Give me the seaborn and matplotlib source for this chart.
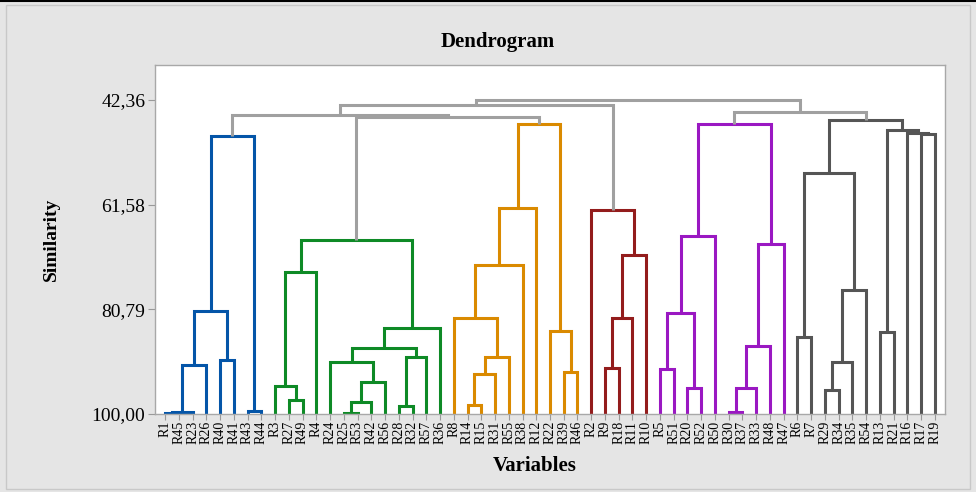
import numpy as np
import pandas as pd
import matplotlib
matplotlib.use("Agg")
import matplotlib.pyplot as plt
from matplotlib.lines import Line2D
from matplotlib.patches import Rectangle
import seaborn as sns

# --- data ---
leaves = ["R1", "R45", "R23", "R26", "R40", "R41", "R43", "R44",
          "R3", "R27", "R49", "R4", "R24", "R25", "R53", "R42", "R56", "R28", "R32", "R57", "R36",
          "R8", "R14", "R15", "R31", "R55", "R38", "R12", "R22", "R39", "R46",
          "R2", "R9", "R18", "R11", "R10",
          "R5", "R51", "R20", "R52", "R50", "R30", "R37", "R33", "R48", "R47",
          "R6", "R7", "R29", "R34", "R35", "R54", "R13", "R21", "R16", "R17", "R19"]

# clusters used for colouring
group_1 = ["R1", "R45", "R23", "R26", "R40", "R41", "R43", "R44"]
group_2 = ["R3", "R27", "R49", "R4", "R24", "R25", "R53", "R42", "R56", "R28", "R32", "R57", "R36"]
group_3 = ["R8", "R14", "R15", "R31", "R55", "R38", "R12", "R22", "R39", "R46"]
group_4 = ["R2", "R9", "R18", "R11", "R10"]
group_5 = ["R5", "R51", "R20", "R52", "R50", "R30", "R37", "R33", "R48", "R47"]
group_6 = ["R6", "R7", "R29", "R34", "R35", "R54", "R13", "R21", "R16", "R17", "R19"]

# merges: (left, right, similarity); an int refers to an earlier merge
merge_left = ["R1", 0, 1, "R40", 2, "R43", 4,
              "R27", "R3", 8, "R25", 10, 11, "R24", "R28", 14, 13, 16, 9,
              "R14", 19, 20, "R8", 22, 23, "R39", "R22", 24,
              "R9", 28, 29, "R2",
              "R5", "R20", 32, 34, "R30", 36, 37, 38, 35,
              "R6", "R29", 42, 43, 41, "R13", "R17", "R16", 46, 45,
              18, 6, 52, 40, 53]
merge_right = ["R45", "R23", "R26", "R41", 3, "R44", 5,
               "R49", 7, "R4", "R53", "R42", "R56", 12, "R32", "R57", 15, "R36", 17,
               "R15", "R31", "R55", 21, "R38", "R12", "R46", 25, 26,
               "R18", "R11", "R10", 30,
               "R51", "R52", 33, "R50", "R37", "R33", "R48", "R47", 39,
               "R7", "R34", "R35", "R54", 44, "R21", "R19", 47, 48, 49,
               27, 51, 31, 50, 54]
merge_sim = [99.80, 99.60, 91.06, 90.09, 81.09, 99.40, 48.97,
             97.43, 94.80, 73.93, 99.80, 97.85, 94.18, 90.40, 98.53, 89.48, 87.95, 84.27, 68.06,
             98.35, 92.71, 89.48, 82.44, 72.65, 62.24, 92.35, 84.70, 46.82,
             91.50, 82.44, 70.81, 62.55,
             91.80, 95.28, 81.40, 67.32, 99.70, 95.28, 87.52, 68.80, 46.82,
             85.80, 95.60, 90.40, 77.24, 55.82, 85.00, 48.60, 48.36, 47.87, 46.03,
             45.53, 45.06, 43.20, 44.56, 42.36]

y_ticks = [42.36, 61.58, 80.79, 100.00]
y_tick_labels = ["42,36", "61,58", "80,79", "100,00"]

# --- style ---
palette = {"g1": "#0455a8", "g2": "#0e8a26", "g3": "#da8a00", "g4": "#931c1c",
           "g5": "#9a18c2", "g6": "#555555", "top": "#a0a0a0"}
groups = {"g1": group_1, "g2": group_2, "g3": group_3, "g4": group_4, "g5": group_5, "g6": group_6}

sns.set_theme(style="white")
plt.rcParams["font.family"] = ["Liberation Serif", "DejaVu Serif"]
plt.rcParams["text.color"] = "black"
plt.rcParams["xtick.labelcolor"] = "black"
plt.rcParams["ytick.labelcolor"] = "black"

# --- build the link paths ---
leaf_x = {name: i for i, name in enumerate(leaves)}
node_x, node_y, node_members = [], [], []


def node_info(ref):
    if isinstance(ref, str):
        return leaf_x[ref], 100.0, [ref]
    return node_x[ref], node_y[ref], node_members[ref]


rows = []
for k, (a, b, s) in enumerate(zip(merge_left, merge_right, merge_sim)):
    xa, ya, ma = node_info(a)
    xb, yb, mb = node_info(b)
    members = ma + mb
    node_x.append((xa + xb) / 2)
    node_y.append(s)
    node_members.append(members)
    colour = "top"
    for gname, glist in groups.items():
        if all(m in glist for m in members):
            colour = gname
    for step, (px, py) in enumerate([(xa, ya), (xa, s), (xb, s), (xb, yb)]):
        rows.append({"link": k, "step": step, "x": px, "y": py, "colour": colour})
links = pd.DataFrame(rows)

fig = plt.figure(figsize=(9.76, 4.92), dpi=100)
fig.patch.set_facecolor("#e5e5e5")
ax = fig.add_axes([155 / 976, 1 - 414 / 492, 790 / 976, 349 / 492])
ax.set_facecolor("white")

sns.lineplot(data=links, x="x", y="y", units="link", hue="colour", palette=palette,
             estimator=None, sort=False, legend=False, linewidth=2.2, ax=ax,
             solid_joinstyle="miter", solid_capstyle="butt")

ax.set_xlim(-0.73, len(leaves) - 1 + 0.73)
ax.set_ylim(100, 35.93)
ax.set_yticks(y_ticks)
ax.set_yticklabels(y_tick_labels, fontsize=14)
ax.set_xticks(range(len(leaves)))
ax.set_xticklabels(leaves, rotation=90, fontsize=10)
ax.tick_params(axis="both", which="both", direction="out", color="#999999",
               length=5, width=0.8, pad=2, left=True, bottom=True)
ax.tick_params(axis="x", length=4, pad=1)
ax.set_xlabel("")
ax.set_ylabel("")
for sp in ax.spines.values():
    sp.set_color("#a8a8a8")
    sp.set_linewidth(1.0)

fig.text(0.51, 0.915, "Dendrogram", ha="center", va="center", fontsize=15, fontweight="bold")
fig.text(0.548, 0.052, "Variables", ha="center", va="center", fontsize=15, fontweight="bold")
fig.text(0.053, 0.513, "Similarity", ha="center", va="center", rotation=90, fontsize=14,
         fontweight="bold")

# outer panel frame and top rule
fig.add_artist(Rectangle((6 / 976, 3 / 492), 964 / 976, 484 / 492, transform=fig.transFigure,
                         fill=False, edgecolor="#c8c8c8", linewidth=1.0))
fig.add_artist(Line2D([0, 1], [0.997, 0.997], transform=fig.transFigure, color="black",
                      linewidth=1.5))

plt.savefig("out.png", dpi=100)
plt.close(fig)
